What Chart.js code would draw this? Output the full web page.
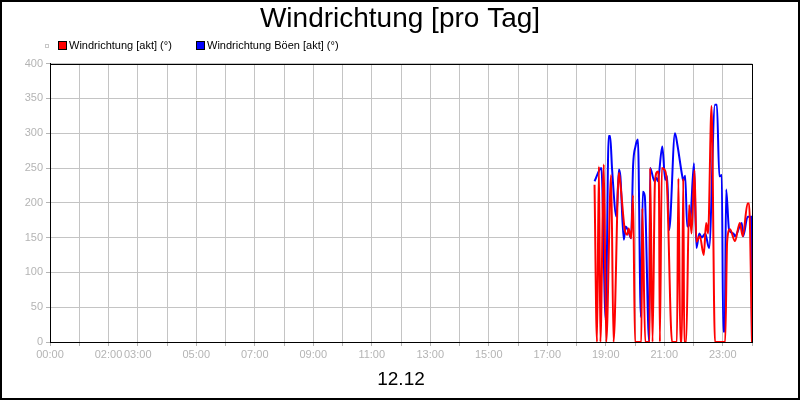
<!DOCTYPE html>
<html>
<head>
<meta charset="utf-8">
<script src="https://cdn.jsdelivr.net/npm/chart.js@4.4.1/dist/chart.umd.min.js"></script>
<style>
  html, body { margin: 0; padding: 0; background: #fff; }
</style>
</head>
<body>
<canvas id="windChart" width="800" height="400"></canvas>
<script>
// hours that get a tick label (the rest only get a grid line)
const labelledHours = [0, 2, 3, 5, 7, 9, 11, 13, 15, 17, 19, 21, 23];

// Windrichtung [akt]
const windTimes = ["18:37","18:42","18:46","18:49","18:56","19:01","19:11","19:16","19:27","19:31",
  "19:39","19:44","19:47","19:52","19:56","20:00","20:13","20:15","20:21","20:30",
  "20:31","20:36","20:41","20:47","20:49","20:51","20:55","21:00","21:05","21:16",
  "21:26","21:29","21:33","21:36","21:39","21:41","21:45","21:51","21:56","22:02",
  "22:06","22:13","22:21","22:26","22:30","22:37","22:44","23:05","23:09","23:15",
  "23:25","23:35","23:41","23:51","23:54","24:00"];
const windValues = [226,0,252,0,255,0,240,0,243,220,
  161,154,163,149,211,0,0,192,0,0,
  250,0,231,245,230,0,250,248,233,0,
  0,235,0,0,235,0,0,197,156,247,
  144,152,125,171,156,339,0,0,144,162,
  145,171,152,199,199,0];

// Windrichtung Böen [akt]
const gustTimes = ["18:37","18:51","19:00","19:06","19:09","19:13","19:22","19:27","19:30","19:37",
  "19:41","19:46","19:52","19:56","20:01","20:06","20:12","20:16","20:20","20:29",
  "20:31","20:40","20:43","20:47","20:49","20:56","21:02","21:06","21:10","21:22",
  "21:27","21:37","21:39","21:43","21:47","21:53","22:01","22:06","22:12","22:17",
  "22:24","22:32","22:44","22:48","22:53","22:58","23:01","23:04","23:07","23:13",
  "23:22","23:25","23:39","23:42","23:51","23:58","24:00"];
const gustValues = [231,250,31,296,296,248,180,248,238,147,
  166,160,149,252,281,291,36,216,210,0,
  250,231,236,231,240,281,233,238,161,300,
  283,238,232,239,166,171,257,135,156,150,
  156,135,341,341,238,240,15,15,219,161,
  156,152,171,152,180,180,0];

const seriesNames = ["Windrichtung [akt] (°)", "Windrichtung Böen [akt] (°)"];
const seriesColors = ["#ff0000", "#0000ff"];

function toMinutes(t) {
  const p = t.split(":");
  return parseInt(p[0]) * 60 + parseInt(p[1]);
}
function toPoints(times, values) {
  return times.map((t, i) => ({ x: toMinutes(t), y: values[i] }));
}
function pad2(n) { return (n < 10 ? "0" : "") + n; }

const FONT = "'Liberation Sans', Arial, sans-serif";
const GREY = "#b4b4b4";

// white page, outer frame, plot box and the hand-made legend
const framePlugin = {
  id: "frame",
  beforeDraw(chart) {
    const c = chart.ctx;
    c.save();
    c.fillStyle = "#fff";
    c.fillRect(0, 0, chart.width, chart.height);
    c.restore();
  },
  afterDraw(chart) {
    const c = chart.ctx;
    const a = chart.chartArea;
    c.save();
    c.strokeStyle = "#000";
    c.lineWidth = 1;
    c.strokeRect(Math.round(a.left) + 0.5, Math.round(a.top) + 0.5,
      Math.round(a.right - a.left), Math.round(a.bottom - a.top));
    c.lineWidth = 2;
    c.strokeRect(1, 1, chart.width - 2, chart.height - 2);

    // legend
    c.strokeStyle = "#c8c8c8";
    c.lineWidth = 1;
    c.strokeRect(45.5, 44.5, 3, 3);
    const boxX = [58, 196];
    c.font = "11px " + FONT;
    c.textBaseline = "middle";
    for (let i = 0; i < seriesNames.length; i++) {
      c.fillStyle = seriesColors[i];
      c.fillRect(boxX[i], 41, 8, 8);
      c.strokeStyle = "#000";
      c.strokeRect(boxX[i] + 0.5, 41.5, 8, 8);
      c.fillStyle = "#000";
      c.fillText(seriesNames[i], boxX[i] + 11, 45.5);
    }
    c.restore();
  }
};

new Chart(document.getElementById("windChart"), {
  type: "line",
  data: {
    datasets: [
      {
        label: seriesNames[0],
        data: toPoints(windTimes, windValues),
        borderColor: seriesColors[0],
        backgroundColor: seriesColors[0],
        borderWidth: 2,
        pointRadius: 0,
        cubicInterpolationMode: "monotone",
      },
      {
        label: seriesNames[1],
        data: toPoints(gustTimes, gustValues),
        borderColor: seriesColors[1],
        backgroundColor: seriesColors[1],
        borderWidth: 2,
        pointRadius: 0,
        cubicInterpolationMode: "monotone",
      },
    ],
  },
  options: {
    responsive: false,
    animation: false,
    devicePixelRatio: 1,
    layout: { padding: { left: 25, right: 25, top: 0, bottom: 9 } },
    plugins: {
      legend: { display: false },
      tooltip: { enabled: false },
      title: {
        display: true,
        text: "Windrichtung [pro Tag]",
        color: "#000",
        font: { family: FONT, size: 28, weight: "normal" },
        padding: { top: 2, bottom: 28 },
      },
    },
    scales: {
      x: {
        type: "linear",
        min: 0,
        max: 1440,
        afterBuildTicks: (axis) => {
          const t = [];
          for (let h = 0; h <= 24; h++) t.push({ value: h * 60 });
          axis.ticks = t;
        },
        ticks: {
          autoSkip: false,
          maxRotation: 0,
          padding: 2,
          color: GREY,
          font: { family: FONT, size: 11 },
          callback: (v) => {
            const h = Math.round(v / 60);
            return labelledHours.includes(h) ? pad2(h) + ":00" : "";
          },
        },
        grid: { color: "#c4c4c4", tickColor: GREY, tickLength: 4 },
        border: { color: "#000", width: 1 },
        title: {
          display: true,
          text: "12.12",
          color: "#000",
          font: { family: FONT, size: 19 },
          padding: { top: 5, bottom: 0 },
        },
      },
      y: {
        min: 0,
        max: 400,
        afterFit: (scale) => { scale.width = 25; },
        ticks: {
          stepSize: 50,
          padding: 3,
          color: GREY,
          font: { family: FONT, size: 11 },
        },
        grid: { color: "#c4c4c4", tickColor: GREY, tickLength: 4 },
        border: { color: "#000", width: 1 },
      },
      // empty right-hand axis, only keeps the plot box clear of the right edge
      yRight: {
        position: "right",
        min: 0,
        max: 400,
        afterFit: (scale) => { scale.width = 23; },
        ticks: { display: false },
        grid: { display: false },
        border: { display: false },
      },
    },
  },
  plugins: [framePlugin],
});
</script>
</body>
</html>
